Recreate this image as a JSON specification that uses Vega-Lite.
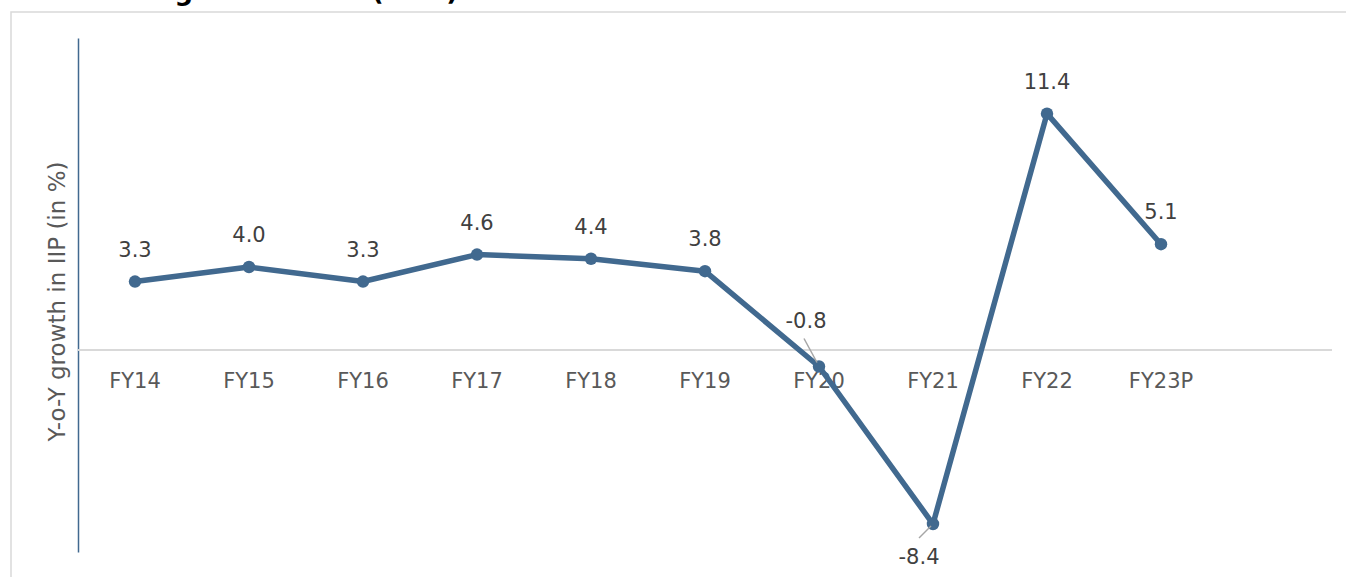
{
  "$schema": "https://vega.github.io/schema/vega-lite/v6.json",
  "autosize": {"type": "none"},
  "padding": {"left": 11, "top": 12, "right": 0, "bottom": 0},
  "width": 1345,
  "height": 575,
  "background": "white",
  "title": {
    "text": "Chart 4: Y-o-Y growth in IIP (in %)",
    "anchor": "start",
    "frame": "group",
    "font": "DejaVu Sans",
    "fontWeight": "bold",
    "fontSize": 26,
    "color": "#000000",
    "baseline": "alphabetic",
    "offset": 0,
    "dx": -42,
    "dy": 14
  },
  "config": {
    "view": {"stroke": "#d9d9d9", "strokeWidth": 1.5},
    "font": "DejaVu Sans",
    "locale": {"number": {"decimal": ".", "thousands": ",", "grouping": [3], "currency": ["$", ""], "minus": "-"}}
  },
  "data": {
    "values": [
      {"fy": "FY14", "v": 3.3},
      {"fy": "FY15", "v": 4.0},
      {"fy": "FY16", "v": 3.3},
      {"fy": "FY17", "v": 4.6},
      {"fy": "FY18", "v": 4.4},
      {"fy": "FY19", "v": 3.8},
      {"fy": "FY20", "v": -0.8},
      {"fy": "FY21", "v": -8.4},
      {"fy": "FY22", "v": 11.4},
      {"fy": "FY23P", "v": 5.1}
    ]
  },
  "encoding": {
    "x": {
      "field": "fy",
      "type": "nominal",
      "sort": null,
      "scale": {
        "domain": ["FY14", "FY15", "FY16", "FY17", "FY18", "FY19", "FY20", "FY21", "FY22", "FY23P", " "],
        "range": [67, 1321],
        "paddingInner": 0,
        "paddingOuter": 0
      },
      "axis": null
    },
    "y": {
      "field": "v",
      "type": "quantitative",
      "scale": {"domain": [-9.75, 15.05], "range": [540, 26], "nice": false, "zero": false},
      "axis": {
        "orient": "left",
        "offset": -67,
        "title": "Y-o-Y growth in IIP (in %)",
        "titleFont": "DejaVu Sans",
        "titleFontSize": 23,
        "titleFontWeight": "normal",
        "titleColor": "#595959",
        "titleX": -9,
        "titleY": 289,
        "titleAngle": -90,
        "titleAlign": "center",
        "titleBaseline": "bottom",
        "labels": false,
        "ticks": false,
        "grid": false,
        "domainColor": "#41698f",
        "domainWidth": 1.5
      }
    }
  },
  "layer": [
    {
      "mark": {"type": "rule", "color": "#d9d9d9", "strokeWidth": 1.5},
      "encoding": {
        "x": {"datum": "FY14", "bandPosition": 0},
        "x2": {"datum": " ", "bandPosition": 1},
        "y": {"datum": 0}
      }
    },
    {
      "mark": {"type": "text", "fontSize": 21, "color": "#595959", "baseline": "middle", "dy": 32},
      "encoding": {
        "y": {"datum": 0},
        "text": {"field": "fy"}
      }
    },
    {
      "mark": {"type": "line", "color": "#41698f", "strokeWidth": 5.5, "strokeJoin": "round"}
    },
    {
      "mark": {"type": "point", "filled": true, "opacity": 1, "color": "#41698f", "size": 155}
    },
    {
      "transform": [{"filter": "datum.fy != 'FY20' && datum.fy != 'FY21'"}],
      "mark": {"type": "text", "fontSize": 21, "color": "#404040", "baseline": "middle", "dy": -31},
      "encoding": {"text": {"field": "v", "format": ".1f"}}
    },
    {
      "transform": [{"filter": "datum.fy == 'FY20'"}],
      "mark": {"type": "text", "fontSize": 21, "color": "#404040", "baseline": "middle", "dx": -13, "dy": -45},
      "encoding": {"text": {"field": "v", "format": ".1f"}}
    },
    {
      "transform": [{"filter": "datum.fy == 'FY21'"}],
      "mark": {"type": "text", "fontSize": 21, "color": "#404040", "baseline": "middle", "dx": -14, "dy": 34},
      "encoding": {"text": {"field": "v", "format": ".1f"}}
    },
    {
      "transform": [{"filter": "datum.fy == 'FY20'"}],
      "mark": {"type": "rule", "color": "#a6a6a6", "strokeWidth": 1.5, "xOffset": -15, "yOffset": -28, "x2Offset": -2, "y2Offset": -4},
      "encoding": {"x2": {"field": "fy"}, "y2": {"field": "v"}}
    },
    {
      "transform": [{"filter": "datum.fy == 'FY21'"}],
      "mark": {"type": "rule", "color": "#a6a6a6", "strokeWidth": 1.5, "xOffset": -14, "yOffset": 14, "x2Offset": -2, "y2Offset": 2},
      "encoding": {"x2": {"field": "fy"}, "y2": {"field": "v"}}
    }
  ]
}
